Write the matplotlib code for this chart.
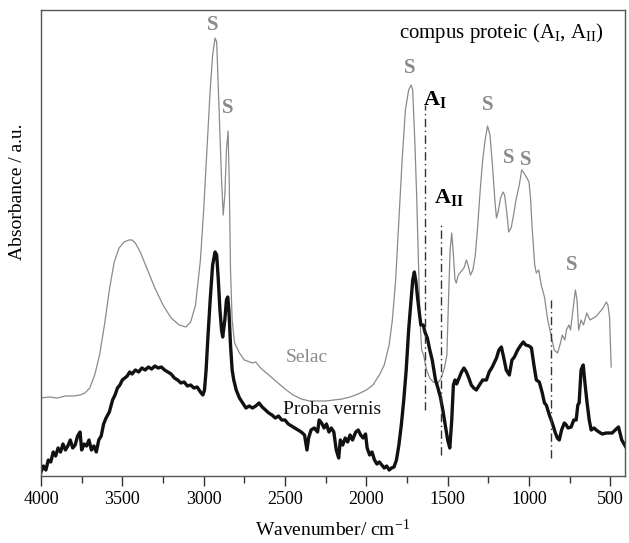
import matplotlib
matplotlib.use("Agg")
import matplotlib.pyplot as plt
from matplotlib.ticker import MultipleLocator

plt.rcParams['font.family'] = ['Liberation Serif', 'DejaVu Serif']
plt.rcParams['mathtext.fontset'] = 'custom'
plt.rcParams['mathtext.rm'] = 'Liberation Serif'
plt.rcParams['mathtext.it'] = 'Liberation Serif:italic'
plt.rcParams['mathtext.bf'] = 'Liberation Serif:bold'

PY0, SCALE = 476.0, 466.0  # pixel-read baseline conversion helper

# ---- Selac (gray) spectrum: wavenumber (cm-1) and read pixel heights -> absorbance
selac_wn = [4000, 3950, 3900, 3850, 3800, 3760, 3730, 3700, 3670, 3640, 3610, 3580, 3550, 3520,
            3490, 3460, 3440, 3420, 3390, 3350, 3300, 3250, 3200, 3150, 3110, 3080, 3050, 3020,
            3000, 2980, 2960, 2945, 2930, 2920, 2905, 2890, 2880, 2870, 2860, 2850, 2843, 2835,
            2825, 2810, 2780, 2750, 2700, 2680, 2650, 2600, 2550, 2500, 2450, 2400, 2350, 2300,
            2250, 2200, 2150, 2100, 2050, 2000, 1960, 1920, 1890, 1860, 1840, 1820, 1800, 1780,
            1760, 1740, 1725, 1715, 1700, 1690, 1680, 1670, 1660, 1648, 1630, 1610, 1590, 1560,
            1540, 1520, 1505, 1495, 1485, 1475, 1465, 1455, 1447, 1435, 1420, 1400, 1385, 1375,
            1360, 1345, 1330, 1315, 1300, 1285, 1270, 1255, 1240, 1225, 1210, 1200, 1190, 1175,
            1160, 1150, 1135, 1125, 1110, 1095, 1080, 1060, 1045, 1035, 1020, 1000, 990, 980,
            965, 955, 940, 925, 905, 885, 865, 845, 825, 810, 795, 780, 770, 755, 745, 730, 715,
            705, 695, 680, 665, 645, 625, 605, 585, 565, 545, 525, 515, 505, 495]
selac_px = [398, 397, 398, 396, 396, 395, 393, 388, 375, 355, 325, 290, 262, 248,
            242, 240, 240, 243, 252, 268, 288, 305, 318, 325, 327, 322, 305, 260,
            210, 150, 90, 55, 38, 42, 110, 180, 215, 195, 150, 131, 180, 270,
            320, 343, 353, 360, 363, 362, 368, 375, 382, 389, 395, 399, 401, 401,
            401, 400, 399, 397, 394, 390, 385, 375, 365, 345, 320, 280, 220, 160,
            110, 90, 85, 90, 150, 200, 260, 320, 350, 355, 370, 378, 382, 383,
            378, 368, 355, 300, 250, 233, 255, 280, 283, 275, 272, 268, 260, 265,
            275, 270, 255, 225, 190, 160, 140, 126, 135, 165, 200, 218, 212, 198,
            192, 195, 215, 232, 228, 215, 200, 185, 170, 172, 176, 182, 200, 230,
            265, 273, 270, 285, 297, 320, 335, 350, 353, 345, 335, 340, 330, 325, 330, 310, 290,
            300, 330, 320, 325, 313, 320, 318, 316, 312, 308, 302, 305, 317, 367]

# ---- Proba vernis (black) spectrum
vern_wn = [4000, 3985, 3970, 3955, 3940, 3925, 3910, 3895, 3880, 3865, 3850, 3835, 3820, 3805,
           3790, 3775, 3760, 3750, 3735, 3720, 3705, 3690, 3675, 3660, 3645, 3630, 3615, 3600,
           3580, 3560, 3545, 3530, 3515, 3500, 3485, 3470, 3455, 3440, 3420, 3400, 3380, 3360,
           3340, 3320, 3300, 3280, 3260, 3240, 3220, 3200, 3180, 3160, 3140, 3120, 3100, 3080,
           3060, 3040, 3020, 3005, 2995, 2985, 2975, 2960, 2945, 2930, 2920, 2910, 2900, 2890,
           2883, 2870, 2860, 2852, 2845, 2835, 2825, 2815, 2800, 2780, 2760, 2740, 2720, 2700,
           2680, 2660, 2640, 2620, 2600, 2580, 2560, 2540, 2520, 2500, 2480, 2460, 2440, 2420,
           2400, 2380, 2365, 2355, 2340, 2320, 2300, 2290, 2275, 2260, 2245, 2230, 2215, 2200,
           2185, 2170, 2160, 2145, 2130, 2115, 2100, 2085, 2065, 2050, 2035, 2020, 2005, 1995,
           1980, 1965, 1950, 1935, 1920, 1905, 1890, 1875, 1860, 1845, 1830, 1815, 1800, 1785,
           1770, 1755, 1740, 1725, 1715, 1705, 1695, 1685, 1675, 1665, 1650, 1640, 1625, 1610,
           1595, 1575, 1560, 1545, 1530, 1515, 1500, 1487, 1475, 1465, 1455, 1445, 1430, 1415,
           1400, 1385, 1370, 1355, 1340, 1324, 1305, 1285, 1262, 1245, 1226, 1200, 1185, 1170,
           1155, 1140, 1121, 1105, 1090, 1070, 1050, 1035, 1020, 1000, 985, 970, 955, 937,
           920, 905, 894, 875, 857, 840, 826, 814, 800, 783, 771, 760, 741, 725, 710, 700,
           692, 680, 667, 655, 643, 630, 618, 600, 587, 570, 550, 526, 507, 489, 470, 450,
           430, 405]
vern_px = [472, 466, 470, 460, 462, 452, 456, 448, 452, 444, 450, 446, 440, 448,
           445, 436, 432, 450, 444, 446, 440, 450, 446, 452, 440, 436, 424, 418,
           412, 400, 395, 388, 385, 380, 378, 376, 372, 374, 370, 372, 368, 370,
           367, 369, 366, 368, 367, 370, 372, 374, 378, 380, 383, 382, 386, 385,
           388, 387, 392, 395, 390, 370, 340, 300, 265, 252, 255, 280, 310, 330,
           337, 320, 300, 297, 310, 345, 370, 380, 390, 398, 403, 408, 406, 408,
           406, 403, 407, 410, 413, 415, 418, 416, 420, 420, 424, 426, 428, 430,
           432, 435, 450, 438, 430, 428, 432, 420, 423, 428, 424, 432, 428, 432,
           450, 458, 440, 445, 438, 442, 435, 440, 432, 430, 435, 438, 434, 448,
           455, 452, 460, 464, 462, 465, 468, 466, 470, 468, 467, 460, 445, 425,
           400, 370, 330, 300, 280, 272, 282, 298, 312, 325, 325, 332, 338, 350,
           360, 380, 388, 397, 410, 425, 440, 448, 420, 385, 380, 384, 378, 372,
           368, 372, 378, 385, 388, 390, 385, 380, 380, 372, 367, 358, 350, 347,
           358, 370, 375, 360, 357, 350, 345, 342, 345, 346, 348, 365, 380, 382,
           392, 403, 405, 415, 423, 432, 438, 440, 430, 423, 425, 428, 427, 420, 420, 405,
           403, 370, 365, 385, 403, 420, 430, 428, 430, 432, 434, 433, 433, 433, 430, 427,
           440, 447]

selac_abs = [(PY0 - p) / SCALE for p in selac_px]
vern_abs = [(PY0 - p) / SCALE for p in vern_px]

# marker lines (wavenumber, top, bottom in absorbance)
mark_wn = [1640, 1540, 865]
mark_top = [(PY0 - 105) / SCALE, (PY0 - 222) / SCALE, (PY0 - 300) / SCALE]
mark_bot = [(PY0 - 410) / SCALE, (PY0 - 455) / SCALE, (PY0 - 458) / SCALE]

s_labels_wn = [2945, 2850, 1735, 1255, 1125, 1020, 740]
s_labels_y = [25, 108, 68, 105, 158, 160, 265]

fig = plt.figure(figsize=(6.29, 5.43), dpi=100)
ax = fig.add_axes([41 / 629, 1 - 476 / 543, (625 - 41) / 629, (476 - 10) / 543])

ax.plot(selac_wn, selac_abs, color='#8a8a8a', lw=0.9)
ax.plot(vern_wn, vern_abs, color='#111111', lw=2.4)

for w, t, b in zip(mark_wn, mark_top, mark_bot):
    ax.plot([w, w], [b, t], color='#333333', lw=1.0, ls=(0, (6, 2.5, 1, 2.5)))

ax.set_xlim(4000, 410)
ax.set_ylim(0, 1)
ax.xaxis.set_major_locator(MultipleLocator(500))
ax.xaxis.set_minor_locator(MultipleLocator(250))
ax.tick_params(axis='x', which='major', direction='out', length=7, width=1, labelsize=13,
               color='#333333', pad=4)
ax.tick_params(axis='x', which='minor', direction='out', length=5, width=1, color='#333333')
ax.set_yticks([])
for sp in ax.spines.values():
    sp.set_color('#555555')
    sp.set_linewidth(1.0)

ax.set_xlabel('Wavenumber/ cm$^{-1}$', fontsize=14, labelpad=8)
fig.text(18 / 629, 1 - 192 / 543, 'Absorbance / a.u.', rotation=90, fontsize=14,
         ha='center', va='center')

def yv(py):
    return (PY0 - py) / SCALE

for w, py in zip(s_labels_wn, s_labels_y):
    ax.text(w, yv(py), 'S', color='#8a8a8a', fontsize=15, fontweight='bold',
            ha='center', va='center')

ax.text(1650, yv(100), r'$\mathbf{A}_{\mathbf{I}}$', fontsize=16, ha='left', va='center')
ax.text(1585, yv(198), r'$\mathbf{A}_{\mathbf{II}}$', fontsize=16, ha='left', va='center')
ax.text(1800, yv(33), r'compus proteic (A$_{\rm I}$, A$_{\rm II}$)', fontsize=15,
        ha='left', va='center')
ax.text(2497, yv(357), 'Selac', color='#8a8a8a', fontsize=14, ha='left', va='center')
ax.text(2515, yv(410), 'Proba vernis', color='#111111', fontsize=14, ha='left', va='center')

fig.savefig('out.png', dpi=100)
